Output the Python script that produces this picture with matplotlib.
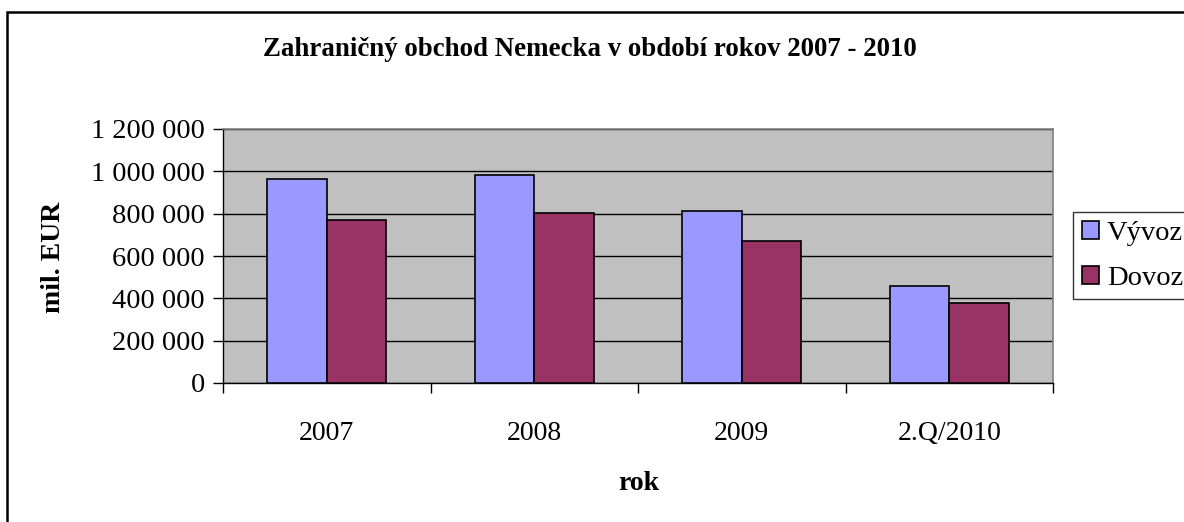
import numpy as np
import matplotlib.pyplot as plt
from matplotlib.patches import Rectangle

categories = ["2007", "2008", "2009", "2.Q/2010"]
vyvoz = [965000, 984000, 814000, 458000]
dovoz = [770000, 802000, 672000, 379000]
yticks = [0, 200000, 400000, 600000, 800000, 1000000, 1200000]
ytick_labels = ["0", "200 000", "400 000", "600 000", "800 000", "1 000 000", "1 200 000"]

plt.rcParams['font.family'] = ['Liberation Serif', 'DejaVu Serif']

fig = plt.figure(figsize=(11.84, 5.22), dpi=100)
fig.patch.set_facecolor("white")
fig.patches.append(Rectangle((7 / 1184, -0.1), 1.2, 1 - 12 / 522 + 0.1,
                             transform=fig.transFigure, fill=False,
                             edgecolor="black", linewidth=1.8))

ax = fig.add_axes([223 / 1184, 1 - 383 / 522, (1053 - 223) / 1184, (383 - 129) / 522])
ax.set_facecolor("#C0C0C0")

x = np.arange(len(categories))
w = 1 / 3.5
ax.bar(x - w / 2, vyvoz, w, color="#9999FF", edgecolor="black", linewidth=1.2,
       label="Vývoz", zorder=3)
ax.bar(x + w / 2, dovoz, w, color="#993366", edgecolor="black", linewidth=1.2,
       label="Dovoz", zorder=3)

ax.set_xlim(-0.5, len(categories) - 0.5)
ax.set_ylim(0, 1200000)
ax.set_yticks(yticks)
ax.set_yticklabels(ytick_labels, fontsize=20.5)
ax.yaxis.grid(True, color="black", linewidth=1, zorder=1)
ax.set_xticks(x)
ax.set_xticklabels(categories, fontsize=20)
ax.set_xticks(np.arange(len(categories) + 1) - 0.5, minor=True)
ax.tick_params(axis="x", which="major", length=0, pad=27)
ax.tick_params(axis="x", which="minor", length=7, width=1, color="black")
ax.tick_params(axis="y", length=7, width=1, pad=6)

for side in ["top", "right"]:
    ax.spines[side].set_color("#808080")
    ax.spines[side].set_linewidth(1.2)
for side in ["left", "bottom"]:
    ax.spines[side].set_color("black")
    ax.spines[side].set_linewidth(1)

fig.text(590 / 1184, 1 - 50 / 522, "Zahraničný obchod Nemecka v období rokov 2007 - 2010",
         ha="center", va="center", fontsize=19.4, fontweight="bold")
fig.text(53 / 1184, 1 - 257 / 522, "mil. EUR", rotation=90, ha="center", va="center",
         fontsize=20, fontweight="bold")
fig.text(639 / 1184, 1 - 483 / 522, "rok", ha="center", va="center",
         fontsize=20, fontweight="bold")

leg = fig.legend(loc="upper left", bbox_to_anchor=(1073 / 1184, 1 - 212 / 522),
                 fontsize=20.5, frameon=True, fancybox=False, edgecolor="black",
                 handlelength=0.6, handleheight=0.6, handletextpad=0.3,
                 borderpad=0.3, labelspacing=0.7, borderaxespad=0)
leg.get_frame().set_linewidth(1)

fig.savefig("out.png", dpi=100)
